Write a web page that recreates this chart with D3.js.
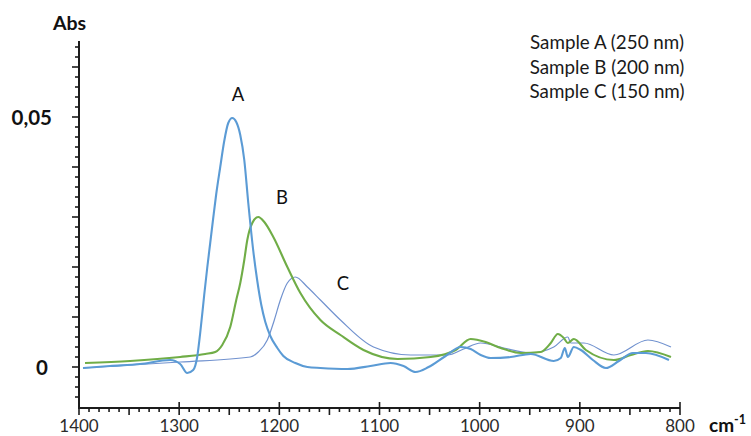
<!DOCTYPE html>
<html>
<head>
<meta charset="utf-8">
<script src="https://cdn.jsdelivr.net/npm/d3@7"></script>
<style>
  html, body { margin: 0; padding: 0; background: #fff; }
  svg { display: block; }
  text { font-family: Lato, "Open Sans", sans-serif; }
</style>
</head>
<body>
<svg id="chart" width="751" height="436"></svg>
<script>
// IR absorbance spectra of three samples (wavenumber in cm-1, absorbance)
const wavenumbersA = [1396, 1369, 1339, 1309, 1299, 1292, 1286, 1282, 1279, 1275, 1272, 1269, 1266, 1263, 1259, 1255, 1251, 1247, 1243, 1239, 1235, 1231, 1226, 1222, 1218, 1214, 1209, 1202, 1196, 1184, 1172, 1159, 1132, 1109, 1089, 1076, 1064, 1051, 1034, 1019, 1009, 999, 989, 969, 949, 926, 919, 915, 912, 906, 899, 887, 874, 861, 847, 834, 811];
const absA = [-0.0002, 0.0002, 0.0006, 0.0014, 0.0006, -0.0012, -0.0006, 0.002, 0.0068, 0.0144, 0.0198, 0.0248, 0.0298, 0.0346, 0.040, 0.0452, 0.0488, 0.0498, 0.049, 0.0464, 0.0414, 0.0328, 0.0232, 0.0172, 0.0124, 0.009, 0.0062, 0.0038, 0.0022, 0.0008, 0.0, -0.0002, -0.0004, 0.0002, 0.0008, 0.0002, -0.001, 0.0, 0.0022, 0.004, 0.0036, 0.0024, 0.0018, 0.002, 0.0026, 0.0012, 0.0018, 0.0038, 0.002, 0.004, 0.0034, 0.0014, -0.0002, 0.0012, 0.0028, 0.0028, 0.0014];

const wavenumbersB = [1394, 1349, 1299, 1274, 1264, 1257, 1249, 1243, 1239, 1235, 1232, 1227, 1221, 1215, 1206, 1192, 1179, 1159, 1139, 1116, 1082, 1049, 1024, 1009, 994, 979, 959, 939, 929, 922, 916, 912, 906, 894, 866, 849, 832, 809];
const absB = [0.0008, 0.0012, 0.002, 0.0026, 0.003, 0.0044, 0.008, 0.0134, 0.0168, 0.0214, 0.0254, 0.0288, 0.030, 0.029, 0.026, 0.020, 0.0148, 0.0094, 0.0064, 0.0034, 0.0016, 0.002, 0.0034, 0.0056, 0.005, 0.0038, 0.0028, 0.003, 0.0048, 0.0066, 0.0058, 0.0048, 0.0056, 0.0034, 0.0014, 0.0024, 0.0032, 0.002];

const wavenumbersC = [1396, 1299, 1229, 1221, 1212, 1205, 1199, 1192, 1184, 1172, 1159, 1139, 1106, 1069, 1032, 1016, 999, 976, 949, 926, 912, 909, 896, 866, 832, 809];
const absC = [-0.0002, 0.001, 0.002, 0.003, 0.0054, 0.0094, 0.0134, 0.0168, 0.018, 0.016, 0.0134, 0.0094, 0.004, 0.0024, 0.0024, 0.0036, 0.0048, 0.0038, 0.0028, 0.004, 0.006, 0.0048, 0.0048, 0.0024, 0.0054, 0.004];

const legendLabels = ["Sample A (250 nm)", "Sample B (200 nm)", "Sample C (150 nm)"];
const xTickLabels = [1400, 1300, 1200, 1100, 1000, 900, 800];
const yTickLabels = [{ v: 0.05, t: "0,05" }, { v: 0, t: "0" }];

const svg = d3.select("#chart");

const x = d3.scaleLinear().domain([1400, 800]).range([79, 680]);
const y = d3.scaleLinear().domain([-0.0082, 0.065]).range([408, 42]);

const axisColor = "#1c1c1c";

// Spectra
const styles = {
  A: { color: "#5b9bd5", width: 2.1 },
  B: { color: "#70ad47", width: 2.1 },
  C: { color: "#7192cf", width: 1.2 }
};
const data = {
  A: d3.zip(wavenumbersA, absA),
  B: d3.zip(wavenumbersB, absB),
  C: d3.zip(wavenumbersC, absC)
};
const line = d3.line()
  .x(d => x(d[0]))
  .y(d => y(d[1]))
  .curve(d3.curveMonotoneX);

["C", "B", "A"].forEach(k => {
  svg.append("path")
    .datum(data[k])
    .attr("fill", "none")
    .attr("stroke", styles[k].color)
    .attr("stroke-width", styles[k].width)
    .attr("stroke-linejoin", "round")
    .attr("d", line);
});

// Y axis with minor ticks every 0.002 and longer ones every 0.01
const yAxis = svg.append("g");
yAxis.append("line")
  .attr("x1", x(1400)).attr("x2", x(1400))
  .attr("y1", y(0.0652)).attr("y2", y(-0.0082))
  .attr("stroke", axisColor).attr("stroke-width", 2);
d3.range(-6, 66, 2).forEach(i => {
  const v = i / 1000;
  const major = i % 10 === 0;
  yAxis.append("line")
    .attr("x1", x(1400) - (major ? 7 : 4)).attr("x2", x(1400))
    .attr("y1", y(v)).attr("y2", y(v))
    .attr("stroke", axisColor).attr("stroke-width", 1.6);
});

// X axis with ticks every 10, 50 and 100 cm-1
const xAxis = svg.append("g");
xAxis.append("line")
  .attr("x1", x(1400) - 1).attr("x2", x(800))
  .attr("y1", y(-0.0082)).attr("y2", y(-0.0082))
  .attr("stroke", axisColor).attr("stroke-width", 2);
d3.range(800, 1401, 10).forEach(w => {
  const major = w % 100 === 0;
  const mid = w % 50 === 0;
  const y0 = y(-0.0082);
  xAxis.append("line")
    .attr("x1", x(w)).attr("x2", x(w))
    .attr("y1", major ? y0 - 6 : y0)
    .attr("y2", y0 + (major || mid ? 7 : 4))
    .attr("stroke", axisColor).attr("stroke-width", 1.6);
});

xAxis.selectAll("text.xl")
  .data(xTickLabels)
  .join("text")
  .attr("class", "xl")
  .attr("x", d => x(d))
  .attr("y", 432)
  .attr("text-anchor", "middle")
  .attr("font-size", 17)
  .attr("fill", "#2b2b2b")
  .text(d => d);

// Y tick labels
svg.selectAll("text.yl")
  .data(yTickLabels)
  .join("text")
  .attr("class", "yl")
  .attr("x", d => d.v === 0 ? 48 : 52)
  .attr("y", d => y(d.v) + 8)
  .attr("text-anchor", "end")
  .attr("font-size", 20.5)
  .attr("font-weight", "bold")
  .attr("fill", "#111")
  .text(d => d.t);

// Axis titles
svg.append("text")
  .attr("x", 53).attr("y", 30)
  .attr("font-size", 19.5).attr("font-weight", "bold").attr("fill", "#111")
  .text("Abs");

const unit = svg.append("text")
  .attr("x", 709).attr("y", 432)
  .attr("font-size", 19).attr("font-weight", "bold").attr("fill", "#111");
unit.append("tspan").text("cm");
unit.append("tspan").attr("dy", -8).attr("font-size", 12.5).text("-1");

// Peak labels
const peakLabels = [
  { name: "A", x: 238, y: 101 },
  { name: "B", x: 282, y: 204 },
  { name: "C", x: 343, y: 290 }
];
svg.selectAll("text.peak")
  .data(peakLabels)
  .join("text")
  .attr("class", "peak")
  .attr("x", d => d.x).attr("y", d => d.y)
  .attr("text-anchor", "middle")
  .attr("font-size", 18.5)
  .attr("fill", "#111")
  .text(d => d.name);

// Sample legend
svg.selectAll("text.legend")
  .data(legendLabels)
  .join("text")
  .attr("class", "legend")
  .attr("x", 607)
  .attr("y", (d, i) => 49 + i * 24.5)
  .attr("text-anchor", "middle")
  .attr("font-size", 18.8)
  .attr("fill", "#1a1a1a")
  .text(d => d);
</script>
</body>
</html>
